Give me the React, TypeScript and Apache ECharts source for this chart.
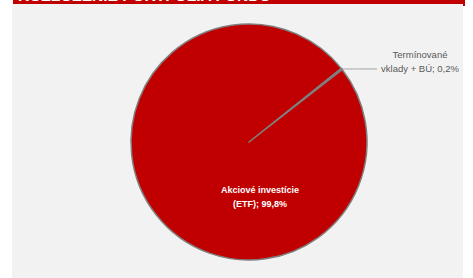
import React, { useEffect, useRef } from "react";
import * as echarts from "echarts";

const title = "ROZLOŽENIE PORTFÓLIA FONDU";
const categories = ["Termínované vklady + BÚ", "Akciové investície (ETF)"];
const values = [0.2, 99.8];
const labelTexts = ["Termínované\nvklady + BÚ; 0,2%", "Akciové investície\n(ETF); 99,8%"];

export default function App() {
  const ref = useRef<HTMLDivElement>(null);
  useEffect(() => {
    document.body.style.margin = "0";
    const chart = echarts.init(ref.current!, null, { renderer: "svg" });
    chart.setOption({
      animation: false,
      backgroundColor: "#ffffff",
      graphic: [
        { type: "rect", shape: { x: 12, y: 4, width: 451, height: 274 }, style: { fill: "#f2f2f2" }, z: -10 },
        { type: "rect", shape: { x: 13, y: 0, width: 452, height: 4 }, style: { fill: "#c00000" }, z: -9 },
        { type: "rect", shape: { x: 463, y: 0, width: 2, height: 6 }, style: { fill: "#c00000" }, z: -9 },
        {
          type: "text",
          x: 18,
          y: 3.5,
          style: {
            text: title,
            fill: "#ffffff",
            font: "bold 15.5px 'Liberation Sans', Arial, sans-serif",
            textVerticalAlign: "bottom",
          },
          z: -8,
        },
      ],
      series: [
        {
          type: "pie",
          center: [249, 142],
          radius: [0, 118],
          startAngle: 38.6,
          clockwise: true,
          avoidLabelOverlap: false,
          data: categories.map((c, i) => ({
            name: c,
            value: values[i],
            itemStyle: { color: i === 0 ? "#808080" : "#c00000" },
            label: i === 0
              ? { position: "outside", color: "#595959", fontSize: 9.5, lineHeight: 14, formatter: labelTexts[i] }
              : { position: "inside", color: "#ffffff", fontSize: 9, fontWeight: "bold", lineHeight: 14, formatter: labelTexts[i] },
            labelLine: { show: i === 0, length: 0, length2: 34, lineStyle: { color: "#a6a6a6", width: 1 } },
          })),
          itemStyle: { borderColor: "#7f7f7f", borderWidth: 1.5 },
          label: { fontFamily: "'Liberation Sans', Arial, sans-serif" },
          labelLayout: (params: any) => {
            if (params.dataIndex === 1) {
              return { x: 260, y: 197, align: "center", verticalAlign: "middle" };
            }
            const p0 = params.labelLinePoints ? params.labelLinePoints[0] : [342, 69];
            return {
              x: 420,
              y: 61,
              align: "center",
              verticalAlign: "middle",
              labelLinePoints: [p0, [p0[0] + 17, p0[1]], [377, p0[1]]],
            };
          },
          emphasis: { disabled: true },
        },
      ],
    });
    return () => chart.dispose();
  }, []);
  return <div ref={ref} style={{ width: 473, height: 278 }} />;
}
